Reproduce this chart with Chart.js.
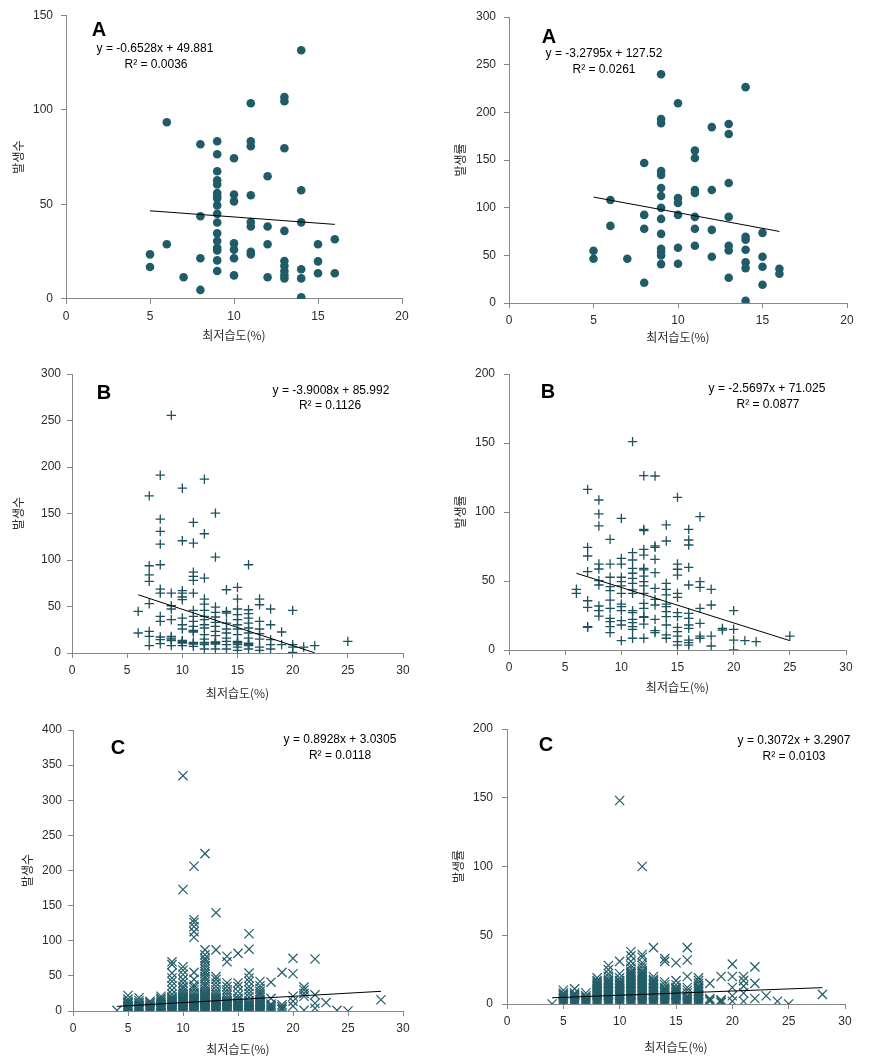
<!DOCTYPE html>
<html><head><meta charset="utf-8">
<script src="https://cdn.jsdelivr.net/npm/chart.js@4.4.0/dist/chart.umd.min.js"></script>
<style>
html,body{margin:0;padding:0;background:#fff;}
#wrap{position:relative;width:879px;height:1062px;overflow:hidden;}
#wrap canvas{position:absolute;left:0;top:0;}
</style>
</head><body><div id="wrap"></div>
<script>
// ---------- DATA ----------
const xTitle = '최저습도(%)';
const xTicksA = [0, 5, 10, 15, 20];
const xTicksBC = [0, 5, 10, 15, 20, 25, 30];

// A - 발생수
const aCntX = [5, 6, 7, 8, 9, 10, 11, 12, 13, 14, 15, 16];
const aCntY = [
  [23.6, 16.9], [93.4, 28.9], [11.5], [81.8, 43.7, 21.5, 4.8],
  [83.4, 76.5, 67.5, 62.8, 60.6, 56, 54.3, 53.2, 49.5, 45, 40.4, 34.7, 30.7, 27.1, 25.7, 20.4, 14.8],
  [74.4, 55.2, 51.6, 29.4, 26.1, 21.5, 12.5],
  [103.5, 83.4, 80.7, 54.8, 40.7, 38.3, 25, 23.6],
  [64.9, 38.3, 28.9, 11.5],
  [106.8, 104.5, 79.7, 36, 20.1, 17.5, 14.8, 12.7, 10.9],
  [131.5, 57.5, 40.5, 15.7, 10.9, 0.9],
  [28.9, 19.9, 13.6], [31.6, 13.6]
];
const aCntTrend = [{x: 5, y: 46.62}, {x: 16, y: 39.44}];

// A - 발생률
const aRateX = [5, 6, 7, 8, 9, 10, 11, 12, 13, 14, 15, 16];
const aRateY = [
  [54.8, 46.4], [108.1, 80.9], [46.4], [146.8, 92.4, 77.8, 21.3],
  [240, 192.9, 188.7, 138.5, 134.3, 120.7, 112.3, 99.8, 88.2, 72.5, 56.9, 53.7, 49.9, 40.8],
  [209.6, 110.2, 105, 92.4, 57.9, 41.2],
  [159.8, 152.1, 118.6, 115.5, 90.3, 77.8, 60],
  [184.5, 118.6, 76.7, 48.5],
  [187.7, 177.2, 125.9, 90.3, 60, 55.1, 26.5],
  [226.4, 69.4, 66.3, 55.8, 42.6, 36.6, 2.4],
  [73.6, 48.5, 38, 19.2], [35.9, 30.7]
];
const aRateTrend = [{x: 5, y: 111.12}, {x: 16, y: 75.05}];

// B - 발생수
const bCntX = [6, 7, 8, 9, 10, 11, 12, 13, 14, 15, 16, 17, 18, 19, 20, 21, 22, 25];
const bCntY = [
  [44.8, 21.5],
  [169, 93.8, 84.1, 77, 53, 23.3, 17.9, 7.9],
  [191.2, 143.9, 130.7, 117.1, 94.9, 68.7, 64.4, 39.4, 34, 17.2, 14.3, 10],
  [255.6, 64.4, 50.8, 47.3, 35.8, 17.9, 16.1, 15, 13.2, 7.9],
  [177.2, 120.7, 67, 64.4, 60.2, 57.3, 37.6, 30.4, 25.8, 13.5, 12.5, 11.5, 10.7, 7.9],
  [140.4, 118.2, 87, 82.3, 78.1, 64.4, 45.8, 39.4, 34, 28.6, 24.3, 23.5, 22.6, 11.5, 10.5, 9.7, 7.2],
  [186.9, 128.2, 80.6, 58, 52.6, 45.8, 39.4, 35.8, 30.4, 26.9, 19.7, 15, 11.5, 10.7, 9, 4.3],
  [150.4, 103.1, 49.4, 43.7, 38.7, 32.9, 28.6, 23.3, 18.6, 12, 11.5, 10.5, 9.7, 4.3],
  [68, 44.8, 43, 32.2, 25.8, 21.5, 16.1, 12.5, 9, 4.3],
  [70.5, 58, 47.3, 41.2, 35.8, 30.4, 25.8, 19.7, 12.5, 11.5, 10.7, 9, 6.4, 2.9],
  [94.9, 46.5, 42.3, 37.6, 32.2, 26.9, 21.5, 16.1, 10.5, 10, 9, 7.9, 4.3],
  [58, 51.9, 34, 25.8, 20.8, 15, 6.4, 2.9],
  [47.3, 30.4, 14.3, 9, 4.3],
  [22.6, 9],
  [45.8, 9, 6.4, 0.7],
  [6.4], [7.9], [12.5]
];
const bCntTrend = [{x: 6, y: 62.59}, {x: 22, y: 0.17}];

// B - 발생률
const bRateX = [6, 7, 8, 9, 10, 11, 12, 13, 14, 15, 16, 17, 18, 19, 20, 21, 22, 25];
const bRateY = [
  [44, 41.1],
  [116.4, 74.4, 68.1, 56.8, 35.7, 30.9, 16.9, 16.4],
  [108.7, 98.6, 89.9, 62.3, 58.7, 50.2, 47.1, 31.9, 28.5, 24.6],
  [80.2, 62.3, 52.7, 45.9, 43, 36.2, 30.2, 22.9, 20.5, 16.9, 12.6],
  [95.4, 66.4, 62.3, 52.7, 49.5, 46.4, 41.1, 33.3, 31.4, 28.5, 21.3, 18.1, 6.8],
  [151, 70.5, 65.2, 59.2, 55.6, 51.9, 48.3, 43.5, 41.1, 28.5, 27.1, 22.2, 19.8, 16.9, 15, 8.5],
  [126.3, 87.4, 86.5, 72.9, 68.8, 59.2, 58, 53.6, 49.5, 46.4, 41.1, 33.8, 30.2, 24.2, 23.7, 18.8, 8.5],
  [126.1, 75.4, 74.4, 65.7, 56, 44.7, 36.7, 32.6, 22.2, 14, 12.6],
  [90.6, 79, 48.3, 44, 39.9, 33.3, 31.4, 27.8, 24.2, 18.1, 10.9, 8.5],
  [110.6, 62.3, 58.5, 54.3, 41.1, 38.2, 27.1, 24.2, 16.4, 13.3, 10.1, 6, 3.6],
  [87.4, 79.7, 76.1, 59.9, 47.1, 26.6, 22.9, 18.1, 15.7, 7.2, 5.3, 3.6],
  [96.6, 49.5, 45.4, 30.2, 19.3, 10.1, 8.5],
  [44, 32.6, 10.1, 2.9],
  [15.7, 14.5],
  [28.5, 15, 7.2, 0],
  [6.8], [6], [10.1]
];
const bRateTrend = [{x: 6, y: 55.6}, {x: 25, y: 6.78}];

// C - 발생수
const cCntX = [4, 5, 6, 7, 8, 9, 10, 11, 12, 13, 14, 15, 16, 17, 18, 19, 20, 21, 22, 23, 24, 25, 28];
const cCntY = [
  [1],
  [0, 1, 2, 3, 4, 5, 6, 7, 8, 10, 12, 14, 17, 22],
  [0, 1, 2, 3, 4, 5, 6, 7, 8, 10, 12, 15, 19],
  [0, 1, 2, 3, 4, 5, 6, 8, 10, 12, 14],
  [0, 1, 2, 3, 4, 5, 6, 7, 8, 9, 10, 12, 14, 16, 18, 21],
  [0, 1, 2, 3, 4, 5, 6, 7, 8, 9, 10, 11, 12, 13, 14, 15, 16, 18, 20, 24, 30, 36, 42, 47, 54, 66, 70],
  [0, 1, 2, 3, 4, 5, 6, 7, 8, 9, 10, 11, 12, 13, 14, 15, 16, 17, 18, 19, 20, 22, 25, 28, 32, 35, 40, 45, 52, 58, 63, 173, 335],
  [0, 1, 2, 3, 4, 5, 6, 7, 8, 9, 10, 11, 12, 13, 14, 15, 16, 17, 18, 19, 20, 23, 26, 30, 34, 37, 45, 55, 105, 113, 120, 126, 130, 206],
  [0, 1, 2, 3, 4, 5, 6, 7, 8, 9, 10, 11, 12, 13, 14, 15, 16, 17, 18, 19, 20, 21, 22, 23, 24, 25, 28, 31, 35, 38, 42, 46, 49, 53, 56, 60, 64, 68, 72, 75, 80, 87, 224],
  [0, 1, 2, 3, 4, 5, 6, 7, 8, 9, 10, 11, 12, 13, 14, 15, 16, 17, 18, 20, 23, 26, 30, 35, 40, 45, 49, 87, 140],
  [0, 1, 2, 3, 4, 5, 6, 7, 8, 9, 10, 11, 12, 13, 14, 15, 18, 22, 26, 30, 35, 40, 70, 78],
  [0, 1, 2, 3, 4, 5, 6, 7, 8, 9, 10, 11, 12, 15, 18, 22, 28, 35, 40, 82],
  [0, 1, 2, 3, 4, 5, 6, 7, 8, 9, 10, 11, 12, 15, 20, 25, 30, 35, 42, 47, 54, 88, 110],
  [0, 1, 2, 3, 4, 5, 6, 7, 8, 9, 10, 11, 12, 13, 14, 16, 19, 22, 25, 28, 32, 36, 42],
  [0, 2, 4, 6, 8, 10, 18, 41],
  [2, 4, 6, 9, 55],
  [7, 14, 21, 53, 75],
  [1, 21, 25, 30, 34],
  [4, 11, 23, 74],
  [12], [1], [0], [16]
];
const cCntTrend = [{x: 4, y: 6.6}, {x: 28, y: 28.03}];

// C - 발생률
const cRateX = [4, 5, 6, 7, 8, 9, 10, 11, 12, 13, 14, 15, 16, 17, 18, 19, 20, 21, 22, 23, 24, 25, 28];
const cRateY = [
  [0],
  [0, 1, 2, 3, 4, 5, 6, 7, 8, 10],
  [0, 1, 2, 3, 4, 5, 6, 7, 8, 11],
  [0, 1, 2, 3, 4, 5, 6, 8],
  [0, 1, 2, 3, 4, 5, 6, 7, 8, 9, 10, 11, 12, 13, 14, 15, 16, 17, 19],
  [0, 1, 2, 3, 4, 5, 6, 7, 8, 9, 10, 11, 12, 13, 14, 15, 16, 17, 18, 20, 22, 25, 28],
  [0, 1, 2, 3, 4, 5, 6, 7, 8, 9, 10, 11, 12, 13, 14, 15, 16, 17, 19, 22, 31, 148],
  [0, 1, 2, 3, 4, 5, 6, 7, 8, 9, 10, 11, 12, 13, 14, 15, 16, 17, 18, 19, 20, 21, 22, 23, 24, 26, 28, 31, 35, 38],
  [0, 1, 2, 3, 4, 5, 6, 7, 8, 9, 10, 11, 12, 13, 14, 15, 16, 17, 18, 19, 20, 21, 22, 23, 24, 26, 28, 30, 34, 36, 100],
  [0, 1, 2, 3, 4, 5, 6, 7, 8, 9, 10, 11, 12, 13, 14, 15, 16, 17, 18, 20, 41],
  [0, 1, 2, 3, 4, 5, 6, 7, 8, 9, 10, 11, 12, 14, 16, 31, 33],
  [0, 1, 2, 3, 4, 5, 6, 7, 8, 9, 10, 11, 12, 14, 17, 30],
  [0, 1, 2, 3, 4, 5, 6, 8, 10, 12, 20, 32, 41],
  [0, 1, 2, 3, 4, 5, 6, 7, 8, 9, 10, 11, 12, 13, 15, 17, 19],
  [2, 3, 4, 15],
  [1, 2, 3, 20],
  [2, 6, 12, 20, 29],
  [2, 8, 13, 17, 20],
  [4, 15, 27],
  [6], [2], [0], [7]
];
const cRateTrend = [{x: 4, y: 4.52}, {x: 28, y: 11.89}];

// ---------- RENDERING ----------
const W = 879, H = 1062;
const TEAL = '#1f5c67';
function cols(xs, ys) {
  const pts = [];
  xs.forEach((x, i) => ys[i].forEach(y => pts.push({x: x, y: y})));
  return pts;
}

const textPlugin = {
  id: 'texts',
  afterDraw(chart, args, opts) {
    const ctx = chart.ctx;
    ctx.save();
    (opts.items || []).forEach(it => {
      ctx.font = it.font;
      ctx.fillStyle = '#000';
      ctx.textAlign = 'center';
      ctx.textBaseline = 'middle';
      ctx.fillText(it.text, it.x, it.y);
    });
    ctx.restore();
  }
};

const LET = 'bold 20px "Liberation Sans", Arial, sans-serif';
const EQ = '12px "Liberation Sans", Arial, sans-serif';

const styles = {
  circle: {pointStyle: 'circle', pointRadius: 4.3, pointBorderWidth: 0, pointBackgroundColor: TEAL, pointBorderColor: TEAL},
  plus: {pointStyle: 'cross', pointRadius: 4.7, pointBorderWidth: 1.3, pointBackgroundColor: '#1d535d', pointBorderColor: '#1d535d'},
  xmark: {pointStyle: 'crossRot', pointRadius: 6.5, pointBorderWidth: 1.2, pointBackgroundColor: '#225d68', pointBorderColor: '#225d68'}
};

const panels = [
  {g: {left: 66, right: 402, top: 15, bottom: 299, yTX: 18, xTY: 335, gap: 13}, xmax: 20, xticks: xTicksA, ymax: 150, yTitle: '발생수',
   pts: cols(aCntX, aCntY), trend: aCntTrend, st: 'circle',
   items: [{text: 'A', x: 99, y: 30, font: LET}, {text: 'y = -0.6528x + 49.881', x: 155, y: 49, font: EQ}, {text: 'R² = 0.0036', x: 156, y: 65, font: EQ}]},
  {g: {left: 509, right: 847, top: 17, bottom: 303, yTX: 460, xTY: 337, gap: 13}, xmax: 20, xticks: xTicksA, ymax: 300, yTitle: '발생률',
   pts: cols(aRateX, aRateY), trend: aRateTrend, st: 'circle',
   items: [{text: 'A', x: 549, y: 37, font: LET}, {text: 'y = -3.2795x + 127.52', x: 604, y: 54, font: EQ}, {text: 'R² = 0.0261', x: 604, y: 70, font: EQ}]},
  {g: {left: 72, right: 403, top: 374, bottom: 653, yTX: 18, xTY: 693, gap: 11}, xmax: 30, xticks: xTicksBC, ymax: 300, yTitle: '발생수',
   pts: cols(bCntX, bCntY), trend: bCntTrend, st: 'plus',
   items: [{text: 'B', x: 104, y: 393, font: LET}, {text: 'y = -3.9008x + 85.992', x: 331, y: 391, font: EQ}, {text: 'R² = 0.1126', x: 330, y: 406, font: EQ}]},
  {g: {left: 509, right: 846, top: 374, bottom: 650, yTX: 460, xTY: 687, gap: 14}, xmax: 30, xticks: xTicksBC, ymax: 200, yTitle: '발생률',
   pts: cols(bRateX, bRateY), trend: bRateTrend, st: 'plus',
   items: [{text: 'B', x: 548, y: 392, font: LET}, {text: 'y = -2.5697x + 71.025', x: 767, y: 389, font: EQ}, {text: 'R² = 0.0877', x: 768, y: 405, font: EQ}]},
  {g: {left: 73, right: 403, top: 730, bottom: 1011, yTX: 27, xTY: 1049, gap: 11}, xmax: 30, xticks: xTicksBC, ymax: 400, yTitle: '발생수',
   pts: cols(cCntX, cCntY), trend: cCntTrend, st: 'xmark',
   items: [{text: 'C', x: 118, y: 748, font: LET}, {text: 'y = 0.8928x + 3.0305', x: 340, y: 740, font: EQ}, {text: 'R² = 0.0118', x: 340, y: 756, font: EQ}]},
  {g: {left: 507, right: 845, top: 729, bottom: 1004, yTX: 458, xTY: 1047, gap: 14}, xmax: 30, xticks: xTicksBC, ymax: 200, yTitle: '발생률',
   pts: cols(cRateX, cRateY), trend: cRateTrend, st: 'xmark',
   items: [{text: 'C', x: 546, y: 745, font: LET}, {text: 'y = 0.3072x + 3.2907', x: 794, y: 741, font: EQ}, {text: 'R² = 0.0103', x: 794, y: 757, font: EQ}]}
];

const TICKFONT = {family: '"Liberation Sans", Arial, sans-serif', size: 12};
const TITLEFONT = {family: '"Noto Sans CJK KR", sans-serif', size: 12};
const LH = 12 * 1.2, TP = 4, TL = 5;
const AXIS = '#868686', TXT = '#2b2b2b';

panels.forEach(p => {
  const g = p.g;
  const boxLeft = g.yTX - LH / 2 - TP;
  const yw = g.left - boxLeft;
  const xh = g.xTY - g.bottom + LH / 2 + TP;
  const cv = document.createElement('canvas');
  cv.width = W; cv.height = H;
  cv.style.width = W + 'px'; cv.style.height = H + 'px';
  document.getElementById('wrap').appendChild(cv);
  const s = styles[p.st];
  new Chart(cv, {
    type: 'scatter',
    data: {
      datasets: [
        {data: p.trend, showLine: true, borderColor: '#000', borderWidth: 1, pointRadius: 0, fill: false},
        Object.assign({data: p.pts, showLine: false}, s)
      ]
    },
    options: {
      responsive: false, animation: false, devicePixelRatio: 1, events: [],
      layout: {padding: {left: boxLeft, top: g.top, right: W - g.right, bottom: H - g.bottom - xh}},
      plugins: {legend: {display: false}, tooltip: {enabled: false}, texts: {items: p.items}},
      scales: {
        x: {
          type: 'linear', min: 0, max: p.xmax,
          afterFit: sc => { sc.height = xh; },
          afterBuildTicks: sc => { sc.ticks = p.xticks.map(v => ({value: v})); },
          ticks: {color: TXT, font: TICKFONT, padding: 5, maxRotation: 0, autoSkip: false},
          grid: {drawOnChartArea: false, drawTicks: true, tickLength: TL, color: AXIS},
          border: {color: AXIS, width: 1},
          title: {display: true, text: xTitle, color: TXT, font: TITLEFONT, padding: {top: 0, bottom: TP}}
        },
        y: {
          type: 'linear', min: 0, max: p.ymax,
          afterFit: sc => { sc.width = yw; },
          ticks: {stepSize: 50, color: TXT, font: TICKFONT, padding: g.gap - TL},
          grid: {drawOnChartArea: false, drawTicks: true, tickLength: TL, color: AXIS},
          border: {color: AXIS, width: 1},
          title: {display: true, text: p.yTitle, color: TXT, font: TITLEFONT, padding: {top: TP, bottom: 0}}
        }
      }
    },
    plugins: [textPlugin]
  });
});
</script>
</body></html>
